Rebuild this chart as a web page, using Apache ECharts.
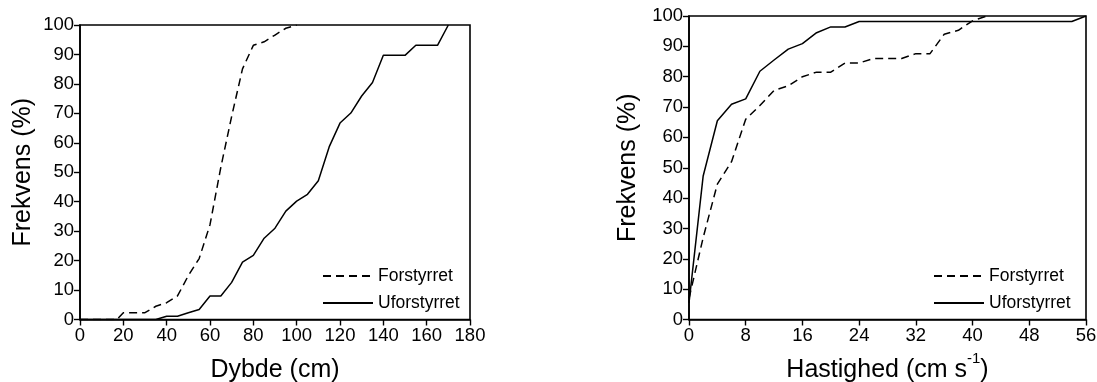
<!DOCTYPE html>
<html>
<head>
<meta charset="utf-8">
<script src="https://cdn.jsdelivr.net/npm/echarts@6/dist/echarts.min.js"></script>
<style>
  html, body { margin: 0; padding: 0; background: #fff; }
  #chart { width: 1097px; height: 382px; }
</style>
</head>
<body>
<div id="chart"></div>
<script>
// Cumulative frequency (%) by water depth (cm)
const depthForstyrretX = [0, 17, 20, 30, 35, 40, 45, 50, 55, 60, 65, 70, 75, 80, 85, 90, 95, 100];
const depthForstyrretY = [0, 0, 2.3, 2.3, 4.5, 5.7, 8.0, 14.9, 20.7, 32.2, 51.7, 69.0, 85.1, 93.1, 94.3, 96.6, 98.9, 100];
const depthUforstyrretX = [0, 35, 40, 45, 50, 55, 60, 65, 70, 75, 80, 85, 90, 95, 100, 105, 110, 115, 120, 125, 130, 135, 140, 145, 150, 155, 160, 165, 170];
const depthUforstyrretY = [0, 0, 1.1, 1.1, 2.3, 3.4, 8.0, 8.0, 12.6, 19.5, 21.8, 27.6, 31.0, 36.8, 40.2, 42.5, 47.1, 58.6, 66.7, 70.1, 75.9, 80.5, 89.7, 89.7, 89.7, 93.1, 93.1, 93.1, 100];

// Cumulative frequency (%) by current velocity (cm s-1)
const speedForstyrretX = [0, 2, 4, 6, 8, 10, 12, 14, 16, 18, 20, 22, 24, 26, 28, 30, 32, 34, 36, 38, 40, 42];
const speedForstyrretY = [7, 27, 44.6, 52, 66, 70.5, 75.5, 77, 80, 81.5, 81.5, 84.5, 84.5, 86, 86, 86, 87.6, 87.6, 94, 95.3, 98.4, 100];
const speedUforstyrretX = [0, 2, 4, 6, 8, 10, 12, 14, 16, 18, 20, 22, 24, 54, 56];
const speedUforstyrretY = [5.5, 47.3, 65.5, 70.9, 72.7, 81.8, 85.5, 89.1, 90.9, 94.5, 96.4, 96.4, 98.2, 98.2, 100];

const seriesNames = ['Forstyrret', 'Uforstyrret'];
const yTicks = { min: 0, max: 100, interval: 10 };

const FONT = '"Liberation Sans", Arial, sans-serif';
const zip = (xs, ys) => xs.map((x, i) => [x, ys[i]]);

const axisLine = { show: true, lineStyle: { color: '#000', width: 1.6 } };
const axisTick = { show: true, inside: false, length: 6, lineStyle: { color: '#000', width: 1.4 } };
const xTickLabel = { color: '#000', fontSize: 18.5, fontFamily: FONT, margin: 7 };
const yTickLabel = { color: '#000', fontSize: 18.5, fontFamily: FONT, margin: 6 };

function lineSeries(name, data, dashed, idx) {
  return {
    name: name,
    type: 'line',
    xAxisIndex: idx,
    yAxisIndex: idx,
    data: data,
    symbol: 'none',
    showSymbol: false,
    silent: true,
    lineStyle: { color: '#000', width: 1.5, type: dashed ? [8, 5] : 'solid' }
  };
}

function legendAt(left) {
  return {
    orient: 'vertical', left: left, top: 261, data: seriesNames,
    itemWidth: 50, itemHeight: 14, itemGap: 7,
    itemStyle: { opacity: 0 },
    textStyle: { color: '#000', fontSize: 17.5, fontFamily: FONT, lineHeight: 20 }
  };
}

const chart = echarts.init(document.getElementById('chart'), null, { renderer: 'canvas' });
chart.setOption({
  animation: false,
  backgroundColor: '#fff',
  grid: [
    { left: 80, top: 25, width: 390, height: 294.5, outerBoundsMode: 'none', containLabel: false, show: true, borderColor: '#000', borderWidth: 1.6, backgroundColor: 'transparent' },
    { left: 689, top: 16, width: 397, height: 303.5, outerBoundsMode: 'none', containLabel: false, show: true, borderColor: '#000', borderWidth: 1.6, backgroundColor: 'transparent' }
  ],
  legend: [legendAt(317), legendAt(928)],
  xAxis: [
    {
      gridIndex: 0, type: 'value', min: 0, max: 180, interval: 20,
      name: 'Dybde (cm)', nameLocation: 'middle', nameGap: 38,
      nameTextStyle: { color: '#000', fontSize: 25, fontFamily: FONT },
      axisLine: axisLine, axisTick: axisTick, axisLabel: xTickLabel, splitLine: { show: false }
    },
    {
      gridIndex: 1, type: 'value', min: 0, max: 56, interval: 8,
      name: '{a|Hastighed (cm s}{sup|-1}{a|)}', nameLocation: 'middle', nameGap: 32,
      nameTextStyle: {
        color: '#000', fontFamily: FONT,
        rich: {
          a: { fontSize: 25, fontFamily: FONT, color: '#000', lineHeight: 38 },
          sup: { fontSize: 15, fontFamily: FONT, color: '#000', lineHeight: 15, verticalAlign: 'top' }
        }
      },
      axisLine: axisLine, axisTick: axisTick, axisLabel: xTickLabel, splitLine: { show: false }
    }
  ],
  yAxis: [
    {
      gridIndex: 0, type: 'value', min: yTicks.min, max: yTicks.max, interval: yTicks.interval,
      name: 'Frekvens (%)', nameLocation: 'middle', nameGap: 44,
      nameTextStyle: { color: '#000', fontSize: 25, fontFamily: FONT },
      axisLine: axisLine, axisTick: axisTick, axisLabel: yTickLabel, splitLine: { show: false }
    },
    {
      gridIndex: 1, type: 'value', min: yTicks.min, max: yTicks.max, interval: yTicks.interval,
      name: 'Frekvens (%)', nameLocation: 'middle', nameGap: 48,
      nameTextStyle: { color: '#000', fontSize: 25, fontFamily: FONT },
      axisLine: axisLine, axisTick: axisTick, axisLabel: yTickLabel, splitLine: { show: false }
    }
  ],
  series: [
    lineSeries(seriesNames[0], zip(depthForstyrretX, depthForstyrretY), true, 0),
    lineSeries(seriesNames[1], zip(depthUforstyrretX, depthUforstyrretY), false, 0),
    lineSeries(seriesNames[0], zip(speedForstyrretX, speedForstyrretY), true, 1),
    lineSeries(seriesNames[1], zip(speedUforstyrretX, speedUforstyrretY), false, 1)
  ]
});
</script>
</body>
</html>
